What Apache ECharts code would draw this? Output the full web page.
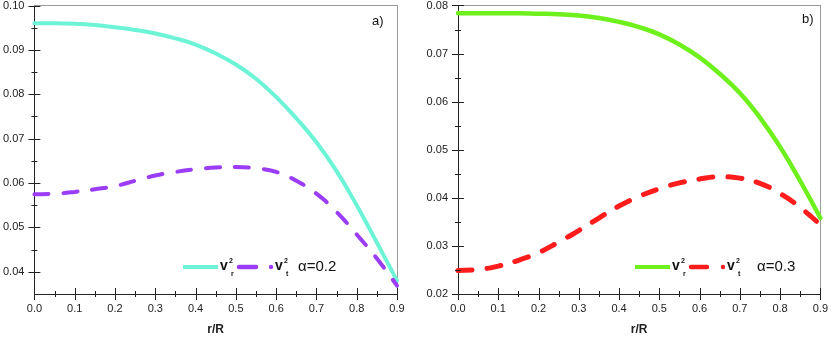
<!DOCTYPE html>
<html><head><meta charset="utf-8">
<script src="https://cdn.jsdelivr.net/npm/echarts@6/dist/echarts.min.js"></script>
<style>html,body{margin:0;padding:0;background:#fff}#c{width:831px;height:341px}</style>
</head><body><div id="c"></div>
<script>
// ---- data ----
const r = [0.00,0.05,0.10,0.15,0.20,0.25,0.30,0.35,0.40,0.45,0.50,0.55,0.60,0.65,0.70,0.75,0.80,0.85,0.90];
const vr2_a = [0.0960,0.0960,0.0959,0.0956,0.0951,0.0945,0.0937,0.0926,0.0912,0.0892,0.0867,0.0835,0.0794,0.0746,0.0692,0.0627,0.0550,0.0466,0.0380];
const vt2_a = [0.0575,0.0576,0.0580,0.0586,0.0593,0.0605,0.0617,0.0625,0.0631,0.0635,0.0636,0.0633,0.0625,0.0605,0.0576,0.0535,0.0484,0.0430,0.0369];
const vr2_b = [0.0784,0.0784,0.0784,0.0784,0.0783,0.0782,0.0779,0.0774,0.0766,0.0755,0.0740,0.0719,0.0692,0.0658,0.0618,0.0567,0.0506,0.0435,0.0358];
const vt2_b = [0.0249,0.0251,0.0258,0.0270,0.0286,0.0308,0.0332,0.0358,0.0383,0.0403,0.0419,0.0431,0.0439,0.0444,0.0441,0.0430,0.0409,0.0380,0.0344];
// tick values
const xMajor = [0,0.1,0.2,0.3,0.4,0.5,0.6,0.7,0.8,0.9];
const xMinor = [0.05,0.15,0.25,0.35,0.45,0.55,0.65,0.75,0.85];
const yMajorA = [0.04,0.05,0.06,0.07,0.08,0.09,0.10];
const yMinorA = [0.045,0.055,0.065,0.075,0.085,0.095];
const yMajorB = [0.02,0.03,0.04,0.05,0.06,0.07,0.08];
const yMinorB = [0.025,0.035,0.045,0.055,0.065,0.075];
const xRange = [0, 0.9];
const yRangeA = [0.035, 0.10];
const yRangeB = [0.02, 0.08];
const yStep = 0.01;
const alphaA = 'α=0.2', alphaB = 'α=0.3';
const panelA = 'a)', panelB = 'b)';
const xName = 'r/R';

const FONT = 'Liberation Sans, Arial, sans-serif';
const axisColor = '#222';
const borderColor = '#999';

function pair(arr){ return arr.map((v,i)=>[r[i], v]); }
function isMultiple(v, step){ const q = v/step; return Math.abs(q - Math.round(q)) < 1e-6; }

function xAxes(g){
  const base = {type:'value', gridIndex:g, min:xRange[0], max:xRange[1], interval:0.1, splitLine:{show:false}};
  return [
    Object.assign({}, base, {position:'bottom',
      axisLine:{show:true, onZero:false, lineStyle:{color:axisColor, width:1}},
      axisTick:{show:false},
      axisLabel:{show:true, formatter:v=>v.toFixed(1), color:'#222', fontSize:11, fontFamily:FONT, margin:9},
      name:xName, nameLocation:'middle', nameGap:30,
      nameTextStyle:{fontWeight:'bold', fontSize:12, color:'#222', fontFamily:FONT}
    }),
    Object.assign({}, base, {position:'top',
      axisLine:{show:true, onZero:false, lineStyle:{color:borderColor}}, axisLabel:{show:false}, axisTick:{show:false}})
  ];
}
function yAxes(g, range, useInterval){
  const base = {type:'value', gridIndex:g, min:range[0], max:range[1], splitLine:{show:false}};
  const maj = useInterval ? {interval:yStep} : {splitNumber:5};
  return [
    Object.assign({}, base, maj, {position:'left',
      axisLine:{show:true, onZero:false, lineStyle:{color:axisColor, width:1}},
      axisTick:{show:false},
      axisLabel:{show:true, formatter:v=> isMultiple(v, yStep) ? v.toFixed(2) : '', color:'#222', fontSize:11, fontFamily:FONT, margin:10}
    }),
    Object.assign({}, base, maj, {position:'right',
      axisLine:{show:true, onZero:false, lineStyle:{color:borderColor}}, axisLabel:{show:false}, axisTick:{show:false}})
  ];
}

// crossing ticks drawn through the axes' own scales
function tickSeries(xi, yi, yMin, yMajor, yMinor){
  const data = [];
  xMajor.forEach(v => data.push([v, yMin, 0, 6]));
  xMinor.forEach(v => data.push([v, yMin, 0, 3]));
  yMajor.forEach(v => data.push([xRange[0], v, 1, 6]));
  yMinor.forEach(v => data.push([xRange[0], v, 1, 3]));
  return {type:'custom', xAxisIndex:xi, yAxisIndex:yi, data:data, clip:false, silent:true, z:5,
    renderItem:(params, api) => {
      const p = api.coord([api.value(0), api.value(1)]);
      const len = api.value(3);
      if (api.value(2) === 0) {
        const x = Math.round(p[0]) + 0.5;
        return {type:'line', shape:{x1:x, y1:p[1]-len, x2:x, y2:p[1]+len}, style:{stroke:axisColor, lineWidth:1}};
      }
      const y = Math.round(p[1]) + 0.5;
      return {type:'line', shape:{x1:p[0]-len, y1:y, x2:p[0]+len, y2:y}, style:{stroke:axisColor, lineWidth:1}};
    }};
}

function lineSeries(xi, yi, data, color, width, dashed){
  return {type:'line', xAxisIndex:xi, yAxisIndex:yi, data:pair(data), showSymbol:false,
    smooth:0.45, silent:true, z: dashed?3:2,
    lineStyle:{color:color, width:width, type: dashed?[14,15]:'solid', cap:'round'}};
}

function legendGraphics(x0, y, c1, c2, dashLen, alpha, alphaX){
  const g = [];
  g.push({type:'line', shape:{x1:x0, y1:y, x2:x0+35, y2:y}, style:{stroke:c1, lineWidth:4}});
  const vtext = (x, sub) => [
    {type:'text', x:x, y:y-8, style:{text:'v', font:'bold 14px '+FONT, fill:'#111'}},
    {type:'text', x:x+9, y:y-9, style:{text:'2', font:'bold 7px '+FONT, fill:'#111'}},
    {type:'text', x:x+11, y:y+4, style:{text:sub, font:'bold 7px '+FONT, fill:'#111'}}
  ];
  g.push(...vtext(x0+37, 'r'));
  g.push({type:'line', shape:{x1:x0+56, y1:y, x2:x0+56+dashLen, y2:y}, style:{stroke:c2, lineWidth:4.5, lineCap:'round'}});
  g.push({type:'circle', shape:{cx:x0+88, cy:y, r:2.2}, style:{fill:c2}});
  g.push(...vtext(x0+92, 't'));
  g.push({type:'text', x:alphaX, y:y-8, style:{text:alpha, font:'15px '+FONT, fill:'#111'}});
  return g;
}

const chart = echarts.init(document.getElementById('c'), null, {renderer:'canvas'});
const N = 2;
const option = {
  animation:false,
  backgroundColor:'#fff',
  grid:[
    {left:32, top:5, width:365, height:294, show:false},
    {left:458, top:5, width:365, height:294, show:false}
  ],
  xAxis:[...xAxes(0), ...xAxes(1)],
  yAxis:[...yAxes(0, yRangeA, false), ...yAxes(1, yRangeB, true)],
  series:[
    lineSeries(0, 0, vr2_a, '#6df3d6', 4, false),
    lineSeries(0, 0, vt2_a, '#9b3cf6', 4, true),
    lineSeries(N, N, vr2_b, '#6ef01c', 4.5, false),
    lineSeries(N, N, vt2_b, '#ff1c1c', 5, true),
    tickSeries(0, 0, yRangeA[0], yMajorA, yMinorA),
    tickSeries(N, N, yRangeB[0], yMajorB, yMinorB)
  ],
  graphic:[
    {type:'text', x:372, y:15, style:{text:panelA, font:'13px '+FONT, fill:'#111'}},
    {type:'text', x:802, y:13, style:{text:panelB, font:'13px '+FONT, fill:'#111'}},
    ...legendGraphics(183, 267, '#6df3d6', '#9b3cf6', 17, alphaA, 298),
    ...legendGraphics(635, 267, '#6ef01c', '#ff1c1c', 16, alphaB, 757)
  ]
};
chart.setOption(option);
</script>
</body></html>
